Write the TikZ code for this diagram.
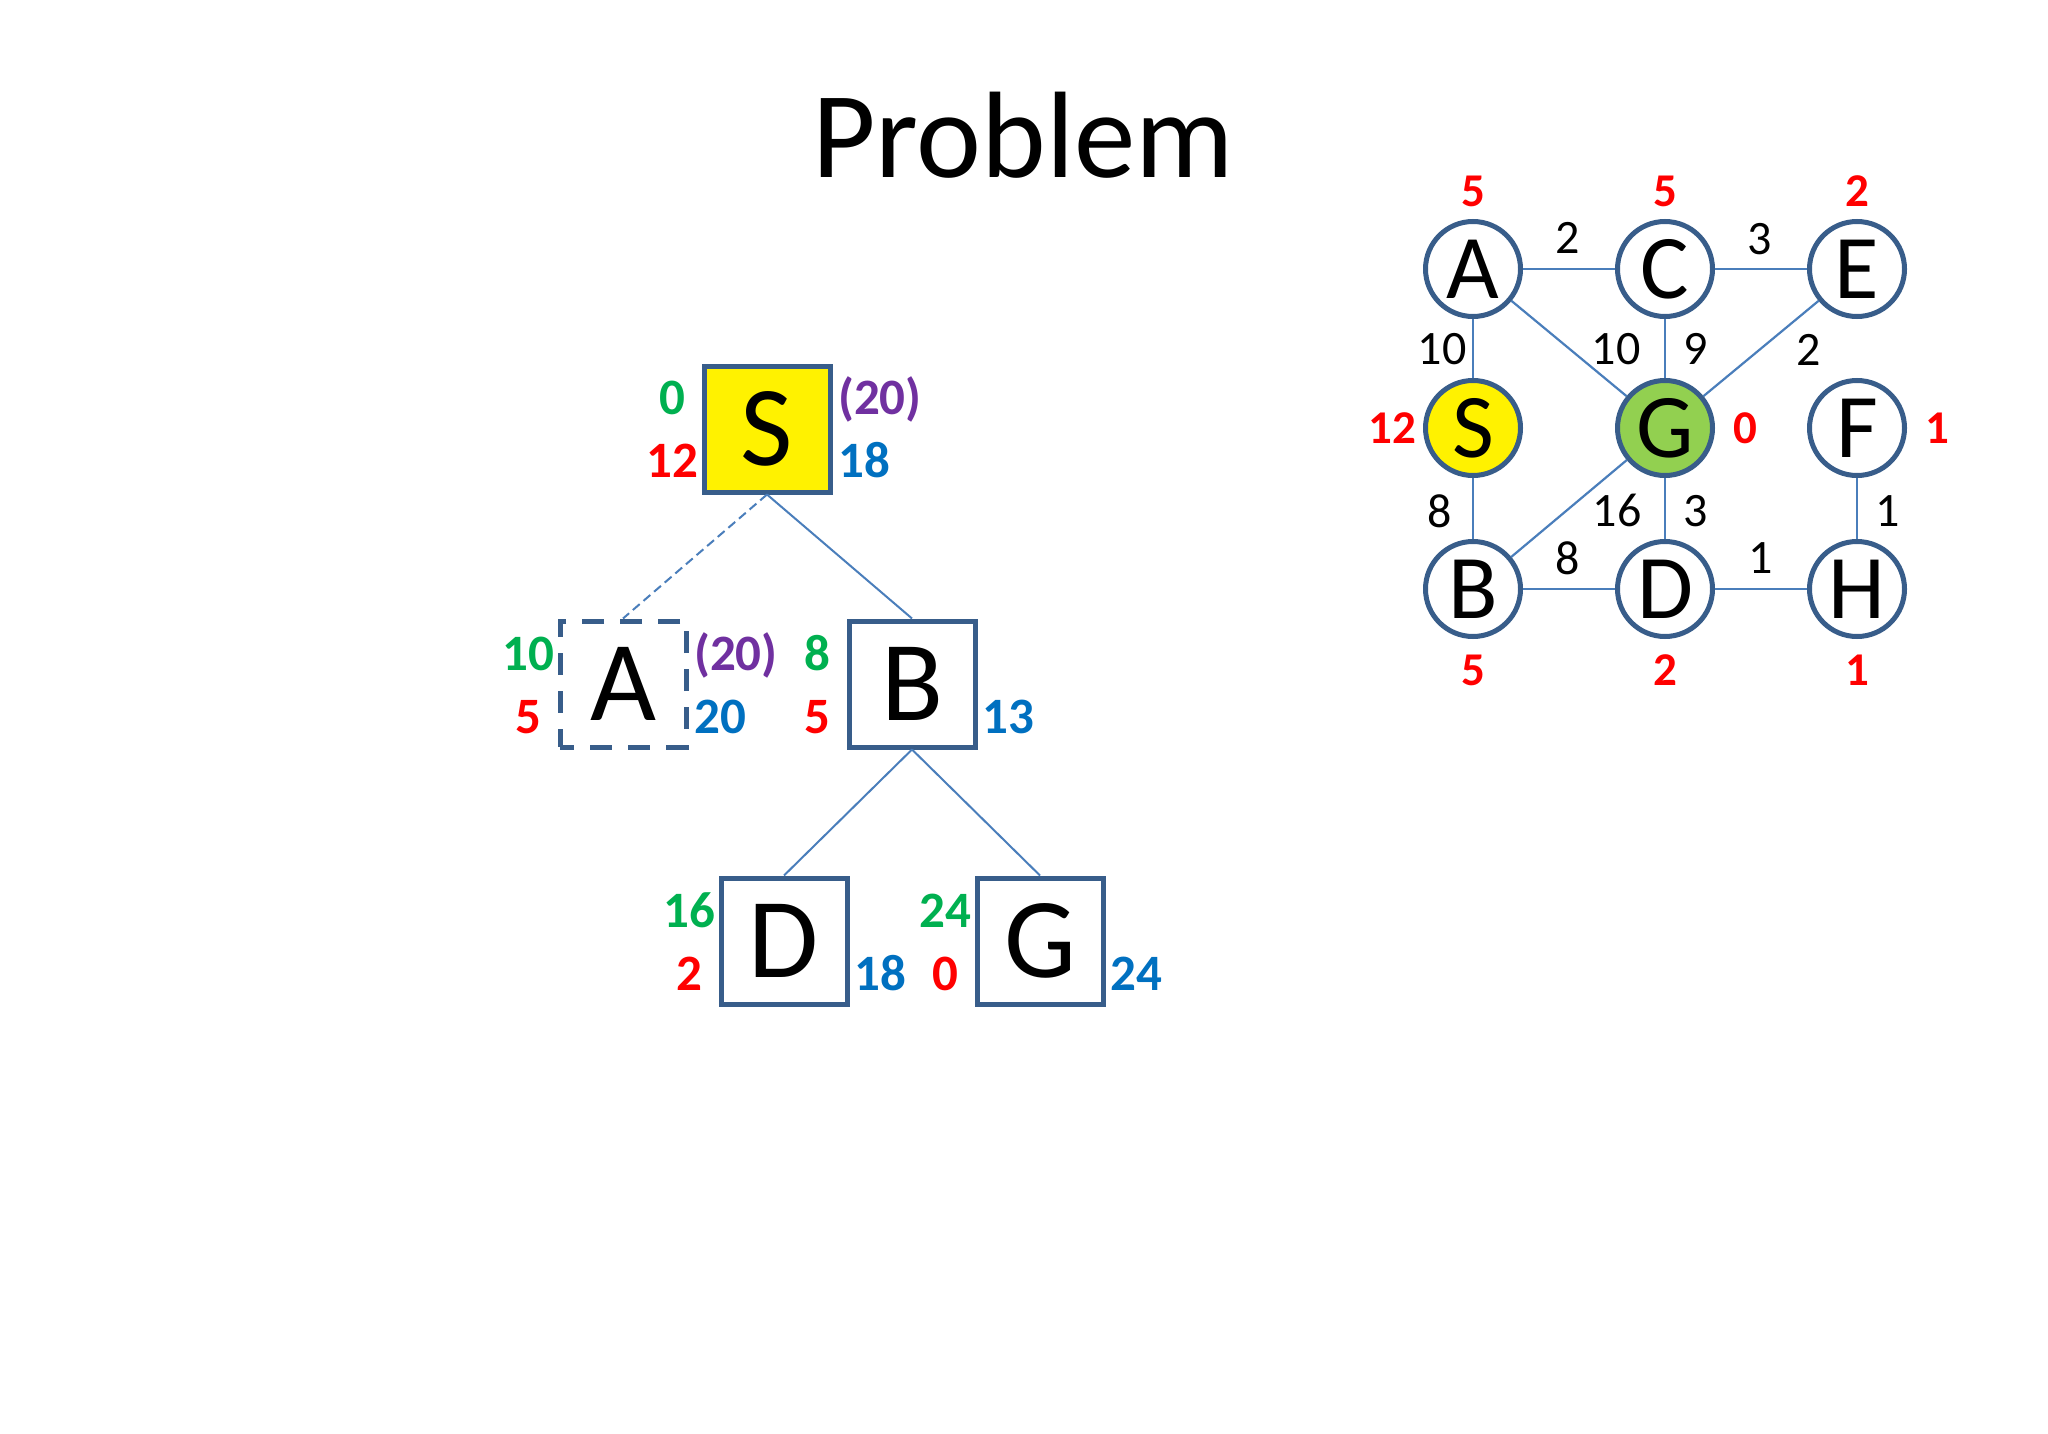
\documentclass[tikz,border=0pt]{standalone}
\usepackage{fontspec}
\setmainfont{Carlito}
\definecolor{bord}{HTML}{385D8A}
\definecolor{edgec}{HTML}{4A7EBB}
\definecolor{gr}{HTML}{00B050}
\definecolor{rd}{HTML}{FF0000}
\definecolor{pu}{HTML}{7030A0}
\definecolor{bl}{HTML}{0070C0}
\definecolor{gfill}{HTML}{92D050}
\newcommand\fsz[1]{\fontsize{#1}{#1}\selectfont}
\tikzset{
  tbox/.style={draw=bord, line width=5pt, minimum size=126pt, inner sep=0pt, font=\fsz{114}, fill=white},
  gnode/.style={circle, draw=bord, line width=5pt, minimum size=95pt, inner sep=0pt, font=\fsz{91}, fill=white},
  lbl/.style={font=\fsz{51}\bfseries, inner sep=0pt, anchor=base},
  lblr/.style={lbl, anchor=base west},
  wt/.style={font=\fsz{48}, inner sep=0pt},
  hv/.style={font=\fsz{47}\bfseries, inner sep=0pt, text=rd},
  edge/.style={draw=edgec, line width=2.2pt}
}
\begin{document}
\begin{tikzpicture}[x=1pt,y=-1pt]
\fill[white] (0,0) rectangle (2048,1434);
\useasboundingbox (0,0) rectangle (2048,1434);

% title
\node[font=\fsz{123}, inner sep=0pt, anchor=base] (title) at (1023,178) {Problem};

% search tree
\node[tbox, fill=yellow] (tS) at (767,429) {S};
\node[tbox, dash pattern=on 22pt off 16pt, dash phase=8pt] (tA) at (623,684) {A};
\node[tbox] (tB) at (912,684) {B};
\node[tbox] (tD) at (784,941) {D};
\node[tbox] (tG) at (1040,941) {G};

\draw[edge, line width=2pt, dash pattern=on 9pt off 5pt] (tS.south) -- (tA.north);
\draw[edge, line width=2pt] (tS.south) -- (tB.north);
\draw[edge, line width=2pt] (tB.south) -- (tD.north);
\draw[edge, line width=2pt] (tB.south) -- (tG.north);

\node[lbl, text=gr] (sg) at (672,414) {0};
\node[lbl, text=rd] (sh) at (672,477) {12};
\node[lblr, text=pu] (sp) at (838,414) {(20)};
\node[lblr, text=bl] (sf) at (838,477) {18};

\node[lbl, text=gr] (ag) at (528,670) {10};
\node[lbl, text=rd] (ah) at (528,733) {5};
\node[lblr, text=pu] (ap) at (694,670) {(20)};
\node[lblr, text=bl] (af) at (694,733) {20};

\node[lbl, text=gr] (bg) at (817,670) {8};
\node[lbl, text=rd] (bh) at (817,733) {5};
\node[lblr, text=bl] (bf) at (982,733) {13};

\node[lbl, text=gr] (dg) at (689,927) {16};
\node[lbl, text=rd] (dh) at (689,990) {2};
\node[lblr, text=bl] (df) at (854,990) {18};

\node[lbl, text=gr] (gg) at (945,927) {24};
\node[lbl, text=rd] (gh) at (945,990) {0};
\node[lblr, text=bl] (gf) at (1110,990) {24};

% graph
\node[gnode] (A) at (1473,269) {A};
\node[gnode] (C) at (1665,269) {C};
\node[gnode] (E) at (1857,269) {E};
\node[gnode, fill=yellow] (S) at (1473,428) {S};
\node[gnode, fill=gfill] (G) at (1665,428) {G};
\node[gnode] (F) at (1857,428) {F};
\node[gnode] (B) at (1473,589) {B};
\node[gnode] (D) at (1665,589) {D};
\node[gnode] (H) at (1857,589) {H};

\draw[edge] (A) -- (C);
\draw[edge] (C) -- (E);
\draw[edge] (A) -- (S);
\draw[edge] (A) -- (G);
\draw[edge] (C) -- (G);
\draw[edge] (E) -- (G);
\draw[edge] (S) -- (B);
\draw[edge] (G) -- (B);
\draw[edge] (G) -- (D);
\draw[edge] (B) -- (D);
\draw[edge] (D) -- (H);
\draw[edge] (F) -- (H);

\node[hv] (hA) at (1473,191) {5};
\node[hv] (hC) at (1665,191) {5};
\node[hv] (hE) at (1857,191) {2};
\node[hv] (hS) at (1392,428) {12};
\node[hv] (hG) at (1745,428) {0};
\node[hv] (hF) at (1937,428) {1};
\node[hv] (hB) at (1473,670) {5};
\node[hv] (hD) at (1665,670) {2};
\node[hv] (hH) at (1857,670) {1};

\node[wt] (wAC) at (1568,238) {2};
\node[wt] (wCE) at (1760,239) {3};
\node[wt] (wAS) at (1442,349) {10};
\node[wt] (wAG) at (1616,349) {10};
\node[wt] (wCG) at (1696,349) {9};
\node[wt] (wEG) at (1809,350) {2};
\node[wt] (wSB) at (1440,511) {8};
\node[wt] (wBG) at (1617,510) {16};
\node[wt] (wGD) at (1696,511) {3};
\node[wt] (wFH) at (1888,511) {1};
\node[wt] (wBD) at (1568,558) {8};
\node[wt] (wDH) at (1761,558) {1};
\end{tikzpicture}
\end{document}
